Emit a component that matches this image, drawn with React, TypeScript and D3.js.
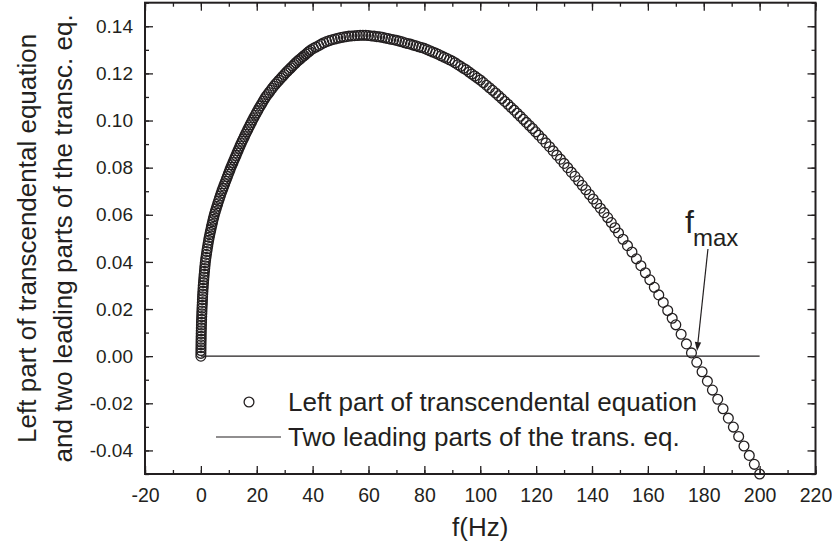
import React, { useEffect, useRef } from 'react';
import * as d3 from 'd3';

// Data (rising branch, then falling branch)
const freqHz = [
  0, 0.012, 0.024, 0.036, 0.048, 0.064, 0.081, 0.098, 0.114, 0.139, 0.168, 0.197, 0.226, 0.259, 0.298, 0.336, 0.374, 0.416, 0.464, 0.512,
  0.56, 0.61, 0.67, 0.73, 0.79, 0.85, 0.934, 1.018, 1.102, 1.186, 1.28, 1.376, 1.472, 1.568, 1.696, 1.84, 1.984, 2.128, 2.284, 2.452,
  2.62, 2.788, 2.972,
  3.17, 3.368, 3.566, 3.764, 3.98, 4.2, 4.42, 4.64, 4.878, 5.164, 5.45, 5.736, 6.022, 6.324, 6.632, 6.94, 7.248, 7.564,
  7.884, 8.204, 8.524, 8.844, 9.164, 9.484, 9.804, 10.124, 10.444, 10.772,
  11.132, 11.492, 11.852, 12.212, 12.572, 12.932, 13.292, 13.652, 14.012, 14.38,
  14.78, 15.18, 15.58, 15.98, 16.384, 16.804, 17.224, 17.644, 18.064, 18.492,
  18.952, 19.412, 19.872, 20.332, 20.8, 21.3, 21.8, 22.3, 22.8,
  23.264, 23.84, 24.416, 24.992, 25.568, 26.144, 26.78,
  27.388, 27.996, 28.604, 29.212, 29.82,
  30.452, 31.04, 31.628, 32.216, 32.804, 33.392, 33.98,
  34.6, 35.2, 35.8, 36.4, 37.0, 37.6, 38.2, 38.8, 39.4,
  40.3, 41.2, 42.2, 43.1, 44.0, 45.0,
  46, 47, 48, 49, 50, 51, 52, 53, 54, 55, 56, 57, 58,
  59, 60, 61, 62, 63, 64, 65, 66, 67, 68, 69, 70, 71, 72, 73, 74, 75, 76, 77, 78, 79, 80,
  81, 82, 83, 84, 85, 86, 87, 88, 89, 90, 91, 92, 93, 94, 95, 96, 97, 98, 99, 100,
  101.1, 102.2, 103.3, 104.4, 105.5, 106.6, 107.7, 108.8, 109.9, 111, 112.1, 113.2, 114.3, 115.4, 116.5, 117.6, 118.7, 119.8, 120.9,
  122.2, 123.5, 124.8, 126.1, 127.4, 128.7, 130, 131.3, 132.6, 133.9, 135.2, 136.5, 137.8, 139.1, 140.4, 141.7, 143, 144.3, 145.6, 146.9, 148.2, 149.5,
  151.1, 152.7, 154.3, 155.9, 157.5, 159.1, 160.7, 162.3, 163.9, 165.5, 167.1, 168.7,
  170, 171.9, 173.8, 175.6, 177.5, 179.4, 181.3, 183.1, 185, 186.9, 188.8, 190.6, 192.5, 194.4, 196.3, 198.1, 200,
];

const leftPart = [
  0, 0.0012, 0.0024, 0.0036, 0.0048, 0.006, 0.0072, 0.0084, 0.0096, 0.0108, 0.012, 0.0132, 0.0144, 0.0156, 0.0168, 0.018, 0.0192, 0.0204, 0.0216, 0.0228,
  0.024, 0.0252, 0.0264, 0.0276, 0.0288, 0.03, 0.0312, 0.0324, 0.0336, 0.0348, 0.036, 0.0372, 0.0384, 0.0396, 0.0408, 0.042, 0.0432, 0.0444, 0.0456, 0.0468,
  0.048, 0.0492, 0.0504,
  0.0515, 0.0526, 0.0537, 0.0548, 0.0559, 0.057, 0.0581, 0.0592, 0.0603, 0.0614, 0.0625, 0.0636, 0.0647, 0.0658, 0.0669, 0.068, 0.0691, 0.0702,
  0.0712, 0.0722, 0.0732, 0.0742, 0.0752, 0.0762, 0.0772, 0.0782, 0.0792, 0.0802,
  0.0812, 0.0822, 0.0832, 0.0842, 0.0852, 0.0862, 0.0872, 0.0882, 0.0892, 0.0902,
  0.0912, 0.0922, 0.0932, 0.0942, 0.0952, 0.0962, 0.0972, 0.0982, 0.0992, 0.1002,
  0.1012, 0.1022, 0.1032, 0.1042, 0.1052, 0.1062, 0.1072, 0.1082, 0.1092,
  0.1101, 0.111, 0.1119, 0.1128, 0.1137, 0.1146, 0.1155,
  0.1163, 0.1171, 0.1179, 0.1187, 0.1195,
  0.1203, 0.121, 0.1217, 0.1224, 0.1231, 0.1238, 0.1245,
  0.1252, 0.1258, 0.1264, 0.127, 0.1276, 0.1282, 0.1288, 0.1294, 0.13,
  0.1306, 0.1312, 0.1318, 0.1324, 0.133, 0.1335,
  0.1339, 0.1343, 0.1346, 0.1349, 0.1352, 0.1354, 0.1356, 0.1358, 0.1359, 0.136, 0.1361, 0.1362, 0.1362,
  0.1362, 0.1361, 0.1359, 0.1358, 0.1356, 0.1355, 0.1353, 0.135, 0.1348, 0.1345, 0.1343, 0.134, 0.1337, 0.1334, 0.133, 0.1327, 0.1324, 0.132, 0.1317, 0.1313, 0.131, 0.1306,
  0.1301, 0.1296, 0.1291, 0.1286, 0.1281, 0.1275, 0.1269, 0.1264, 0.1258, 0.1252, 0.1245, 0.1237, 0.123, 0.1222, 0.1215, 0.1206, 0.1197, 0.1189, 0.118, 0.1172,
  0.1161, 0.115, 0.1139, 0.1128, 0.1117, 0.1105, 0.1093, 0.1081, 0.1069, 0.1056, 0.1044, 0.1031, 0.1018, 0.1005, 0.0992, 0.0979, 0.0966, 0.0952, 0.0938,
  0.0922, 0.0905, 0.0889, 0.0871, 0.0853, 0.0836, 0.0818, 0.08, 0.0781, 0.0763, 0.0744, 0.0725, 0.0706, 0.0686, 0.0667, 0.0648, 0.0628, 0.0609, 0.0588, 0.0567, 0.0545, 0.0523,
  0.0496, 0.0469, 0.0442, 0.0413, 0.0384, 0.0354, 0.0324, 0.0292, 0.026, 0.0228, 0.0194, 0.0161,
  0.0133, 0.0093, 0.0052, 0.0014, -0.0026, -0.0066, -0.0106, -0.0144, -0.0183, -0.0223, -0.0263, -0.0301, -0.0341, -0.0381, -0.0421, -0.0459, -0.05,
];

// the "two leading parts" series: flat line at zero
const leadingFreq = [0, 200];
const leadingValue = [0, 0];

const xTicks = [-20, 0, 20, 40, 60, 80, 100, 120, 140, 160, 180, 200, 220];
const yTicks = [-0.04, -0.02, 0, 0.02, 0.04, 0.06, 0.08, 0.1, 0.12, 0.14];
const legendLabels = ['Left part of transcendental equation', 'Two leading parts of the trans. eq.'];
const yTitle = ['Left part of transcendental equation', 'and two leading parts of the transc. eq.'];
const xTitle = 'f(Hz)';

// f_max arrow, in data units: tail then tip
const fmaxArrow = [[181.5, 0.0455], [177.6, 0.0022]];
const fmaxLabelAt = [173.3, 0.0522];

const FONT = '"Liberation Sans", Arial, Helvetica, sans-serif';
const INK = '#231f20';
const R = 4.9;

const App = () => {
  const svgRef = useRef(null);

  useEffect(() => {
    document.body.style.margin = '0';
    const width = 832;
    const height = 551;
    const margin = { top: 2.7, right: 16.5, bottom: 77, left: 145 };

    const svg = d3.select(svgRef.current)
      .attr('width', width)
      .attr('height', height)
      .style('font-family', FONT);
    svg.selectAll('*').remove();

    const x = d3.scaleLinear().domain([-20, 220]).range([margin.left, width - margin.right]);
    const y = d3.scaleLinear().domain([-0.05, 0.15]).range([height - margin.bottom, margin.top]);

    const xMinor = d3.range(-20, 221, 10);
    const yMinor = d3.range(-5, 16).map(d => d / 100);

    const styleAxis = (g, fontSize) => {
      g.select('.domain').remove();
      g.selectAll('line').attr('stroke', INK).attr('stroke-width', 1.3);
      g.selectAll('text').attr('fill', INK).style('font-size', fontSize + 'px').style('font-family', FONT);
    };

    // bottom
    svg.append('g')
      .attr('transform', `translate(0,${y(-0.05)})`)
      .call(d3.axisBottom(x).tickValues(xMinor).tickSize(-4).tickFormat(() => ''))
      .call(g => styleAxis(g, 19));
    svg.append('g')
      .attr('transform', `translate(0,${y(-0.05)})`)
      .call(d3.axisBottom(x).tickValues(xTicks).tickSize(-8).tickPadding(14).tickFormat(d => String(d)))
      .call(g => styleAxis(g, 19.5));
    // top
    svg.append('g')
      .attr('transform', `translate(0,${y(0.15)})`)
      .call(d3.axisTop(x).tickValues(xMinor).tickSize(-4).tickFormat(() => ''))
      .call(g => styleAxis(g, 19));
    svg.append('g')
      .attr('transform', `translate(0,${y(0.15)})`)
      .call(d3.axisTop(x).tickValues(xTicks).tickSize(-8).tickFormat(() => ''))
      .call(g => styleAxis(g, 19));
    // left
    svg.append('g')
      .attr('transform', `translate(${x(-20)},0)`)
      .call(d3.axisLeft(y).tickValues(yMinor).tickSize(-4).tickFormat(() => ''))
      .call(g => styleAxis(g, 19));
    svg.append('g')
      .attr('transform', `translate(${x(-20)},0)`)
      .call(d3.axisLeft(y).tickValues(yTicks).tickSize(-8).tickPadding(12).tickFormat(d => d.toFixed(2)))
      .call(g => styleAxis(g, 19));
    // right
    svg.append('g')
      .attr('transform', `translate(${x(220)},0)`)
      .call(d3.axisRight(y).tickValues(yMinor).tickSize(-4).tickFormat(() => ''))
      .call(g => styleAxis(g, 19));
    svg.append('g')
      .attr('transform', `translate(${x(220)},0)`)
      .call(d3.axisRight(y).tickValues(yTicks).tickSize(-8).tickFormat(() => ''))
      .call(g => styleAxis(g, 19));

    // frame
    svg.append('rect')
      .attr('x', x(-20))
      .attr('y', y(0.15))
      .attr('width', x(220) - x(-20))
      .attr('height', y(-0.05) - y(0.15))
      .attr('fill', 'none')
      .attr('stroke', INK)
      .attr('stroke-width', 2);

    // flat line
    const line = d3.line().x(d => x(d[0])).y(d => y(d[1]));
    svg.append('path')
      .datum(leadingFreq.map((f, i) => [f, leadingValue[i]]))
      .attr('fill', 'none')
      .attr('stroke', INK)
      .attr('stroke-width', 1.2)
      .attr('d', line);

    // open circles
    const n = Math.min(freqHz.length, leftPart.length);
    svg.append('g')
      .selectAll('circle')
      .data(freqHz.slice(0, n).map((f, i) => [f, leftPart[i]]))
      .enter()
      .append('circle')
      .attr('cx', d => x(d[0]))
      .attr('cy', d => y(d[1]))
      .attr('r', R)
      .attr('fill', 'none')
      .attr('stroke', INK)
      .attr('stroke-width', 1.3);

    // f_max annotation
    const [tail, tip] = fmaxArrow;
    const x1 = x(tail[0]), y1 = y(tail[1]), x2 = x(tip[0]), y2 = y(tip[1]);
    const ang = Math.atan2(y2 - y1, x2 - x1);
    const headLen = 9, headHalf = 3.2;
    const bx = x2 - headLen * Math.cos(ang), by = y2 - headLen * Math.sin(ang);
    svg.append('line')
      .attr('x1', x1).attr('y1', y1).attr('x2', bx).attr('y2', by)
      .attr('stroke', INK).attr('stroke-width', 1.2);
    svg.append('path')
      .attr('d', `M${x2},${y2}L${bx + headHalf * Math.sin(ang)},${by - headHalf * Math.cos(ang)}L${bx - headHalf * Math.sin(ang)},${by + headHalf * Math.cos(ang)}Z`)
      .attr('fill', INK);
    const fl = svg.append('text')
      .attr('x', x(fmaxLabelAt[0]))
      .attr('y', y(fmaxLabelAt[1]))
      .attr('fill', INK)
      .style('font-size', '32px');
    fl.append('tspan').text('f');
    fl.append('tspan').attr('dx', -1).attr('dy', 13).style('font-size', '24px').text('max');

    // legend
    const legend = svg.append('g').style('font-size', '26px').attr('fill', INK);
    legend.append('circle')
      .attr('cx', 249).attr('cy', 402).attr('r', R)
      .attr('fill', 'none').attr('stroke', INK).attr('stroke-width', 1.3);
    legend.append('line')
      .attr('x1', 216).attr('x2', 281).attr('y1', 437).attr('y2', 437)
      .attr('stroke', INK).attr('stroke-width', 1.2);
    legend.selectAll('text')
      .data(legendLabels)
      .enter()
      .append('text')
      .attr('x', 288)
      .attr('y', (d, i) => 410.5 + i * 35)
      .text(d => d);

    // axis titles
    svg.selectAll('.ytitle')
      .data(yTitle)
      .enter()
      .append('text')
      .attr('class', 'ytitle')
      .attr('transform', (d, i) => `translate(${36 + i * 36},${(y(-0.05) + y(0.15)) / 2}) rotate(-90)`)
      .attr('text-anchor', 'middle')
      .attr('fill', INK)
      .style('font-size', '26px')
      .text(d => d);

    svg.append('text')
      .attr('x', (x(-20) + x(220)) / 2)
      .attr('y', 536)
      .attr('text-anchor', 'middle')
      .attr('fill', INK)
      .style('font-size', '26px')
      .text(xTitle);
  }, []);

  return <svg ref={svgRef}></svg>;
};

export default App;
